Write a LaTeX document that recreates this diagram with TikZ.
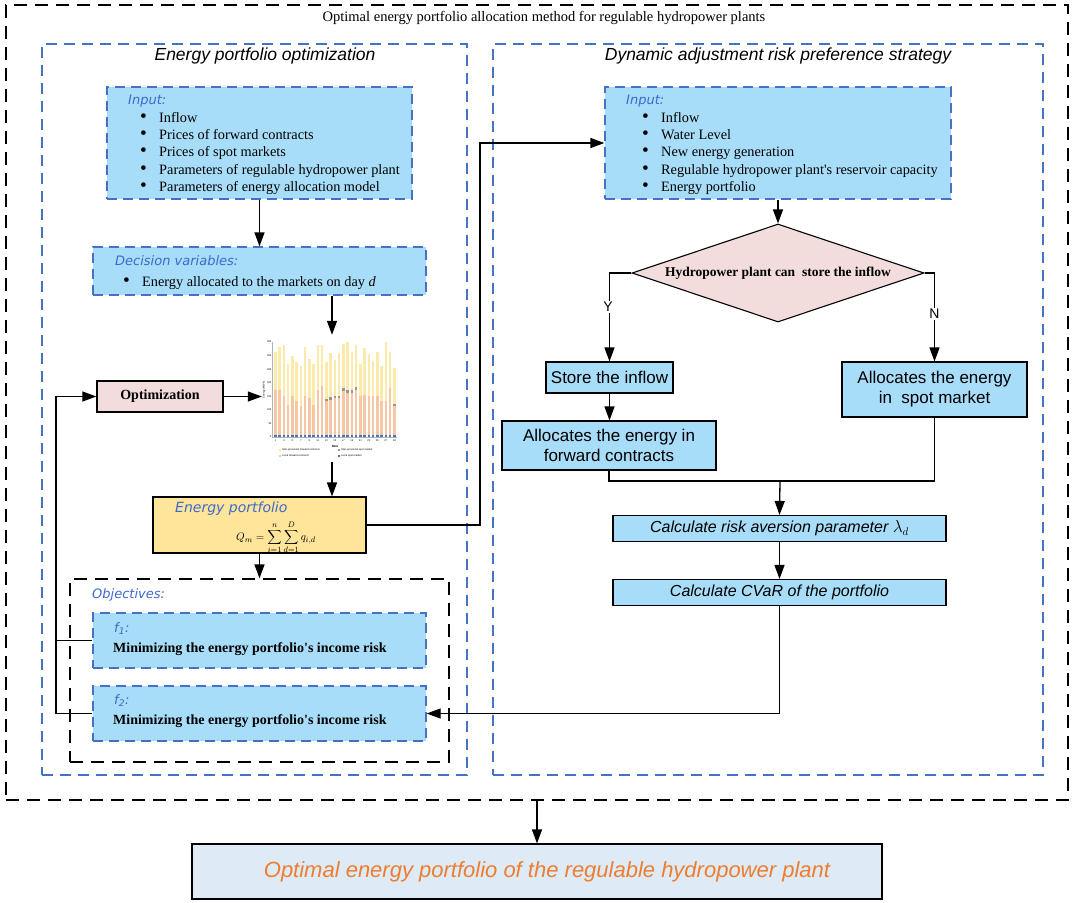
\documentclass[tikz,border=0pt]{standalone}
\usepackage{graphicx}
\usepackage{fontspec}
\setmainfont{Liberation Serif}
\setsansfont{Liberation Sans}
\newfontfamily\tagfont{DejaVu Sans}
\usetikzlibrary{arrows.meta,shapes.geometric,calc}

\definecolor{fillblue}{RGB}{167,221,248}
\definecolor{dashblue}{RGB}{68,114,196}
\definecolor{tagblue}{RGB}{60,105,205}
\definecolor{fillpink}{RGB}{242,221,220}
\definecolor{fillyellow}{RGB}{255,229,153}
\definecolor{fillfinal}{RGB}{222,235,247}
\definecolor{txtorange}{RGB}{237,125,49}
\definecolor{barYellow}{RGB}{252,234,170}
\definecolor{barOrange}{RGB}{246,198,165}
\definecolor{barGrey}{RGB}{150,150,150}

\newcommand{\bul}{\makebox[19pt][l]{\scalebox{1.35}{\textbullet}}}
\newcommand{\apos}{\textquotesingle}

\tikzset{
  arr/.style={line width=1.3pt, -{Triangle[length=14pt, width=10pt]}},
  ln/.style={line width=1.3pt},
  sz/.style 2 args={minimum width=#1, minimum height=#2, inner sep=0pt},
  dashbox/.style={draw=dashblue, fill=fillblue, line width=1.3pt, dash pattern=on 10pt off 6pt},
  blueframe/.style={draw=dashblue, line width=1.3pt, dash pattern=on 11pt off 7pt},
  blackframe/.style={draw=black, line width=1.4pt, dash pattern=on 13pt off 8pt},
  stepbox/.style={draw=black, fill=fillblue, line width=1.1pt},
  tag/.style={anchor=base west, inner sep=0pt, text=tagblue, font=\tagfont\itshape\fontsize{13}{15}\selectfont},
  listtext/.style={anchor=north west, align=left, inner sep=0pt, font=\fontsize{14.3}{17.3}\selectfont},
  boxtext/.style={align=center, font=\sffamily\fontsize{17}{20}\selectfont},
  heading/.style={font=\sffamily\itshape\fontsize{17.5}{20}\selectfont},
  tiny/.style={inner sep=0.4pt, font=\sffamily\fontsize{2.6}{3}\selectfont},
}

\begin{document}
\begin{tikzpicture}[x=1pt, y=-1pt]
\useasboundingbox (0,0) rectangle (1072,903);

% frames
\node[blackframe, sz={1062}{795}] (outer) at (537,402.5) {};
\node[font=\fontsize{14.5}{16}\selectfont] (title) at (544,18) {Optimal energy portfolio allocation method for regulable hydropower plants};
\node[blueframe, sz={425}{731}] (leftframe) at (254.5,409.5) {};
\node[blueframe, sz={550}{731}] (rightframe) at (768,409.5) {};
\node[heading] (lefthead) at (265,56) {Energy portfolio optimization};
\node[heading] (righthead) at (778,56) {Dynamic adjustment risk preference strategy};

% left column
\node[dashbox, sz={305}{112}] (lin) at (259.5,143) {};
\node[tag] (lintag) at (128,104) {Input:};
\node[listtext] (linlist) at (140,112) {\bul Inflow\\ \bul Prices of forward contracts\\ \bul Prices of spot markets\\ \bul Parameters of regulable hydropower plant\\ \bul Parameters of energy allocation model};

\node[dashbox, sz={333}{48}] (dec) at (259.5,271) {};
\node[tag] (dectag) at (115,265) {Decision variables:};
\node[listtext, anchor=base west] (declist) at (123,286) {\bul Energy allocated to the markets on day \textit{d}};

\node[sz={140}{127}] (chart) at (332,398.5) {};
\node[draw=black, fill=fillpink, line width=1.4pt, sz={126}{31}, font=\bfseries\fontsize{14}{16}\selectfont] (opt) at (160,396.5) {Optimization};

\node[draw=black, fill=fillyellow, line width=1.1pt, sz={213}{56}] (ep) at (259.5,525) {};
\node[tag, font=\tagfont\itshape\fontsize{14}{16}\selectfont] (eptag) at (175,512) {Energy portfolio};
\node[inner sep=0pt, font=\fontsize{11}{13}\selectfont] (epformula) at (276,537.5) {$\displaystyle Q_m=\sum_{i=1}^{n}\sum_{d=1}^{D} q_{i,d}$};

\node[blackframe, line width=1.3pt, sz={379}{183}] (obj) at (259.5,670.5) {};
\node[tag] (objtag) at (92,598) {Objectives:};
\node[dashbox, sz={333}{55}] (f1) at (259.5,640.5) {};
\node[tag] (f1tag) at (114,632) {f\textsubscript{1}:};
\node[anchor=base west, inner sep=0pt, font=\bfseries\fontsize{14}{16}\selectfont] (f1text) at (113,652) {Minimizing the energy portfolio\apos s income risk};
\node[dashbox, sz={333}{55}] (f2) at (259.5,713.5) {};
\node[tag] (f2tag) at (114,704) {f\textsubscript{2}:};
\node[anchor=base west, inner sep=0pt, font=\bfseries\fontsize{14}{16}\selectfont] (f2text) at (113,724) {Minimizing the energy portfolio\apos s income risk};

% chart
\draw[gray!60, line width=0.3pt] (272,342) -- (272,437) -- (397,437);
\foreach \d/\o/\g/\t in {1/175/0/312, 2/175/0/331, 3/150/0/340, 4/119/0/269, 5/150/0/300,
    6/131/0/275, 7/115/0/262, 8/152/0/331, 9/144/0/287, 10/119/0/269, 11/175/0/340,
    12/187/0/340, 13/131/8/275, 14/137/10/310, 15/144/8/285, 16/144/8/310, 17/169/10/344,
    18/162/10/350, 19/162/10/312, 20/175/10/340, 21/150/0/269, 22/156/0/327, 23/150/0/306,
    24/150/0/281, 25/150/0/312, 26/131/0/262, 27/131/0/350, 28/181/0/312, 29/115/8/256}{
  \pgfmathsetmacro\bx{274+(\d-1)*4.25}
  \fill[barYellow] (\bx,437) rectangle ++(2.6,-\t*0.2714);
  \fill[barGrey] (\bx,437) rectangle ++(2.6,-\o*0.2714-\g*0.2714);
  \fill[barOrange] (\bx,437) rectangle ++(2.6,-\o*0.2714);
  \fill[dashblue] (\bx,437) rectangle ++(2.6,-7*0.2714);
}
\foreach \v in {0,50,...,350}
  \node[tiny, anchor=east] (ytick\v) at ({272}, {437-\v*0.2714}) {\v};
\foreach \d in {1,3,...,29}
  \node[tiny] (xtick\d) at ({275.3+(\d-1)*4.25}, 440.5) {\d};
\node[tiny, font=\sffamily\bfseries\fontsize{3}{3}\selectfont] (xlabel) at (335,446) {Date};
\node[tiny, rotate=90] (ylabel) at (264,390) {Energy (MWh)};
\fill[barYellow] (279,448.5) rectangle ++(2,2);
\node[tiny, anchor=west] (leg1) at (281.5,449.5) {Inter-provincial forward contracts};
\fill[barGrey] (338,448.5) rectangle ++(2,2);
\node[tiny, anchor=west] (leg2) at (340.5,449.5) {Inter-provincial spot market};
\fill[barOrange] (279,455) rectangle ++(2,2);
\node[tiny, anchor=west] (leg3) at (281.5,456) {Local forward contracts};
\fill[dashblue] (338,455) rectangle ++(2,2);
\node[tiny, anchor=west] (leg4) at (340.5,456) {Local spot market};

% right column
\node[dashbox, sz={346}{112}] (rin) at (778,143) {};
\node[tag] (rintag) at (626,104) {Input:};
\node[listtext] (rinlist) at (642,112) {\bul Inflow\\ \bul Water Level\\ \bul New energy generation\\ \bul Regulable hydropower plant\apos s reservoir capacity\\ \bul Energy portfolio};

\node[diamond, draw=black, fill=fillpink, line width=1.1pt, aspect=3, inner sep=0pt, minimum width=292, minimum height=98, font=\bfseries\fontsize{13.5}{15}\selectfont] (dia) at (778,273) {Hydropower plant can\ \ store the inflow};

\node[stepbox, sz={127}{31}, boxtext] (store) at (609.5,377.5) {Store the inflow};
\node[stepbox, sz={214}{49}, boxtext] (fwd) at (609,445.5) {Allocates the energy in\\forward contracts};
\node[stepbox, sz={185}{55}, boxtext] (spot) at (934.5,389.5) {Allocates the energy\\in\ \ spot market};
\node[stepbox, sz={333}{26}, font=\sffamily\itshape\fontsize{16}{18}\selectfont] (lam) at (779.5,528.5) {Calculate risk aversion parameter $\lambda_d$};
\node[stepbox, sz={333}{26}, font=\sffamily\itshape\fontsize{16}{18}\selectfont] (cvar) at (779.5,592.5) {Calculate CVaR of the portfolio};

% final result
\node[draw=black, fill=fillfinal, line width=1.1pt, sz={690}{55}] (final) at (537,871.5) {};
\node[text=txtorange, font=\sffamily\itshape\fontsize{22}{24}\selectfont] (finaltext) at (547,871.5) {Optimal energy portfolio of the regulable hydropower plant};

% connectors
\coordinate (bend) at (480,525);
\coordinate (fb) at (56,713.5);
\coordinate (mrg) at (780,481);
\draw[arr] (lin.south) -- (dec.north);
\draw[arr] (chart.north |- dec.south) -- (chart.north);
\draw[arr] (opt.east) -- (opt.east -| chart.west);
\draw[arr] (chart.south) -- (chart.south |- ep.north);
\draw[arr] (ep.south) -- (ep.south |- obj.north);
\draw[ln] (f1.west) -- (f1.west -| fb);
\draw[arr] (f2.west) -- (fb) |- (opt.west);
\draw[arr] (ep.east) -- (bend) |- (rin.west);
\draw[arr] (rin.south) -- (dia.north);
\draw[arr] (dia.west) -| (store.north);
\draw[arr] (dia.east) -| (spot.north);
\node[fill=white, inner sep=1pt, font=\sffamily\fontsize{14}{16}\selectfont] (ylab) at (608,307) {Y};
\node[fill=white, inner sep=1pt, font=\sffamily\fontsize{14}{16}\selectfont] (nlab) at (934.5,314) {N};
\draw[arr] (store.south) -- (store.south |- fwd.north);
\draw[ln] (fwd.south) |- (mrg) -| (spot.south);
\draw[arr] (mrg) -- (lam.north);
\draw[arr] (lam.south) -- (cvar.north);
\draw[arr] (cvar.south) |- (f2.east);
\draw[arr] (outer.south) -- (final.north);
\end{tikzpicture}
\end{document}
